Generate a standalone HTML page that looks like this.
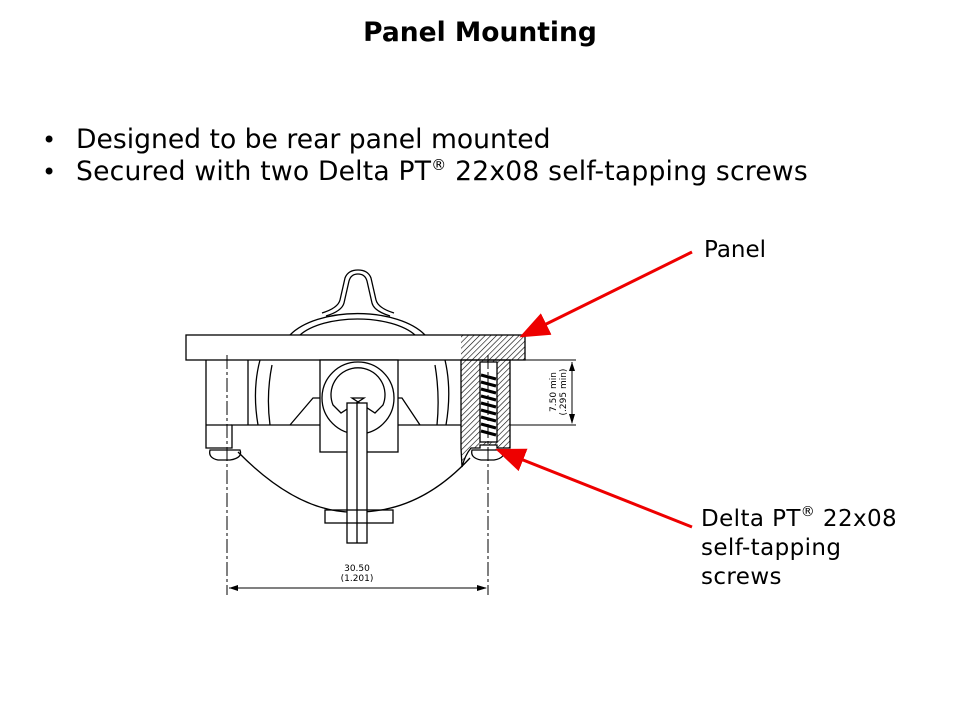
<!DOCTYPE html>
<html><head><style>
body{margin:0;width:960px;height:720px;background:#fff;font-family:"DejaVu Sans","Liberation Sans",sans-serif;position:relative;overflow:hidden}
.t{position:absolute;white-space:nowrap;color:#000}
sup{line-height:0;vertical-align:10px}
</style></head><body>
<div class="t" style="left:0;width:960px;text-align:center;top:17px;font-size:26.5px;font-weight:bold">Panel Mounting</div>
<div class="t" style="left:42px;top:124px;font-size:24px;line-height:32px">•</div>
<div class="t" style="left:42px;top:156px;font-size:24px;line-height:32px">•</div>
<div class="t" style="left:76px;top:124px;font-size:26.6px;line-height:32px">Designed to be rear panel mounted<br><span style="letter-spacing:0.2px">Secured with two Delta PT<sup style="font-size:15px">®</sup> 22x08 self-tapping screws</span></div>
<div class="t" style="left:704px;top:237px;font-size:23px">Panel</div>
<div class="t" style="left:701px;top:505px;font-size:23px;line-height:29px;letter-spacing:0.4px">Delta PT<sup style="font-size:14px">®</sup> 22x08<br>self-tapping<br>screws</div>
<svg width="960" height="720" style="position:absolute;left:0;top:0" fill="none" stroke="#000" stroke-width="1.3">
<defs>
<pattern id="h" width="4" height="4" patternUnits="userSpaceOnUse" patternTransform="rotate(45)"><line x1="0" y1="0" x2="0" y2="4" stroke="#000" stroke-width="1.2"/></pattern>
<marker id="ar" markerWidth="10" markerHeight="8" refX="9" refY="4" orient="auto"><path d="M0,0 L10,4 L0,8z" fill="#e00" stroke="none"/></marker>
<marker id="ak" markerWidth="10" markerHeight="6" refX="9" refY="3" orient="auto"><path d="M0,0 L10,3 L0,6z" fill="#000" stroke="none"/></marker>
</defs>
<path d="M300,335 A65,30 0 0 1 415,335"/>
<path d="M290,335 A75,38 0 0 1 425,335"/>
<path d="M322,313 Q338,308 340,300 L345,278 Q348,270 358,270 Q368,270 371,278 L376,300 Q378,308 394,313"/>
<path d="M326,316 Q342,311 344,303 L349,281 Q351,274 358,274 Q365,274 367,281 L372,303 Q374,311 390,316"/>
<rect x="186" y="335" width="339" height="25"/>
<rect x="461" y="335" width="64" height="25" fill="url(#h)" stroke="none"/>
<path d="M206,360 V448 H232 V425 H461"/>
<line x1="248" y1="360" x2="248" y2="425"/>
<line x1="206" y1="425" x2="232" y2="425"/>
<path d="M290,425 L313,398 H402 L420,425"/>
<path d="M260,360 Q252,390 258,425 M272,365 Q266,395 270,425"/>
<path d="M445,360 Q452,390 446,425 M435,365 Q440,395 437,425"/>
<path d="M238,452 Q300,515 358,512 Q420,512 470,458"/>
<rect x="320" y="360" width="78" height="92" fill="#fff"/>
<circle cx="358" cy="398" r="36"/>
<path d="M333,405 A27,27 0 1 1 383,405 L375,413 L352,398 H364 L341,413z" fill="#fff"/>
<rect x="347" y="403" width="20" height="140" fill="#fff"/>
<line x1="357" y1="403" x2="357" y2="543"/>
<rect x="325" y="510" width="68" height="13" fill="none"/>
<path d="M461,360 H510 V448 H497 V445 H480 V448 H471 Q465,455 462,467 L461,448 Z" fill="url(#h)"/>
<rect x="480" y="362" width="17" height="80" fill="#fff"/>
<path d="M481,375 l15,4 M481,382 l15,4 M481,389 l15,4 M481,396 l15,4 M481,403 l15,4 M481,410 l15,4 M481,417 l15,4 M481,424 l15,4 M481,431 l15,4" stroke-width="3"/>
<path d="M210,450 H240 Q243,458 230,460 H218 Q208,458 210,450z"/>
<path d="M472,450 H503 Q506,458 494,460 H481 Q470,458 472,450z"/>
<line x1="227" y1="355" x2="227" y2="595" stroke-dasharray="14,3,3,3" stroke-width="1"/>
<line x1="488" y1="355" x2="488" y2="595" stroke-dasharray="14,3,3,3" stroke-width="1"/>
<line x1="229" y1="588" x2="486" y2="588" marker-end="url(#ak)" stroke-width="1"/>
<path d="M229,588 l9,-3 v6z" fill="#000" stroke="none"/>
<line x1="510" y1="360" x2="576" y2="360" stroke-width="1"/>
<line x1="510" y1="425" x2="576" y2="425" stroke-width="1"/>
<line x1="572" y1="362" x2="572" y2="423" stroke-width="1" marker-end="url(#ak)"/>
<path d="M572,362 l-3,9 h6z" fill="#000" stroke="none"/>
<text x="357" y="571" font-size="9" fill="#000" stroke="none" text-anchor="middle" font-family="DejaVu Sans">30.50</text>
<text x="357" y="581" font-size="9" fill="#000" stroke="none" text-anchor="middle" font-family="DejaVu Sans">(1.201)</text>
<text transform="translate(556,392) rotate(-90)" font-size="9" fill="#000" stroke="none" text-anchor="middle" font-family="DejaVu Sans">7.50 min</text>
<text transform="translate(566,392) rotate(-90)" font-size="9" fill="#000" stroke="none" text-anchor="middle" font-family="DejaVu Sans">(.295 min)</text>
<line x1="692" y1="252" x2="522" y2="336" stroke="#e00" stroke-width="3" marker-end="url(#ar)"/>
<line x1="692" y1="527" x2="498" y2="450" stroke="#e00" stroke-width="3" marker-end="url(#ar)"/>
</svg>
</body></html>
